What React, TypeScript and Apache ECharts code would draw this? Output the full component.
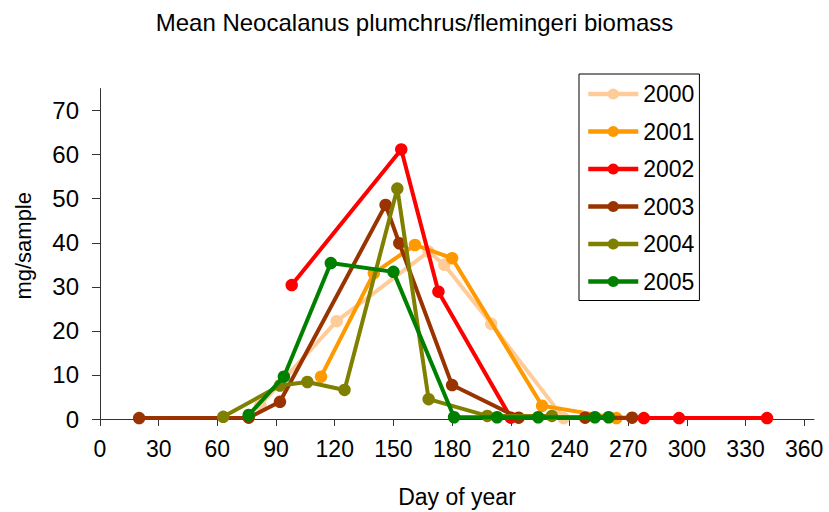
import React, { useEffect, useRef } from "react";
import * as echarts from "echarts";

// Sampling day of year and mean biomass (mg/sample) for each year
const years = ["2000", "2001", "2002", "2003", "2004", "2005"];

const days2000 = [82, 121, 168, 176, 200, 237];
const mg2000 = [3.2, 22.2, 38.0, 35.0, 21.6, 0.2];

const days2001 = [113, 140, 161, 180, 226, 264];
const mg2001 = [9.6, 33.1, 39.5, 36.5, 3.0, 0.2];

const days2002 = [98, 154, 173, 210, 278, 296, 341];
const mg2002 = [30.4, 61.2, 28.9, 0.3, 0.2, 0.2, 0.2];

const days2003 = [20, 76, 92, 146, 153, 180, 214, 248, 272];
const mg2003 = [0.2, 0.3, 3.9, 48.6, 39.9, 7.7, 0.3, 0.3, 0.3];

const days2004 = [63, 92, 106, 125, 152, 168, 198, 231];
const mg2004 = [0.5, 7.6, 8.4, 6.6, 52.3, 4.5, 0.7, 0.7];

const days2005 = [76, 94, 118, 150, 181, 203, 224, 253, 260];
const mg2005 = [0.9, 9.6, 35.4, 33.4, 0.4, 0.4, 0.4, 0.4, 0.4];

const allDays = [days2000, days2001, days2002, days2003, days2004, days2005];
const allMg = [mg2000, mg2001, mg2002, mg2003, mg2004, mg2005];

const xTicks = [0, 30, 60, 90, 120, 150, 180, 210, 240, 270, 300, 330, 360];
const yTicks = [0, 10, 20, 30, 40, 50, 60, 70];

const lineColors = ["#FFCC99", "#FF9900", "#FF0000", "#993300", "#808000", "#008000"];

const FONT = "Liberation Sans";

export default function App() {
  const ref = useRef<HTMLDivElement>(null);

  useEffect(() => {
    if (!ref.current) return;
    const chart = echarts.init(ref.current, null, { renderer: "svg" });

    const series = years.map((name, i) => ({
      name,
      type: "line",
      data: allDays[i].map((d, j) => [d, allMg[i][j]]),
      symbol: "circle",
      symbolSize: 12.5,
      showAllSymbol: true,
      lineStyle: { width: 4, color: lineColors[i] },
      itemStyle: { color: lineColors[i] },
      emphasis: { disabled: true },
      z: 2 + i,
    }));

    chart.setOption({
      animation: false,
      backgroundColor: "#ffffff",
      title: {
        text: "Mean Neocalanus plumchrus/flemingeri biomass",
        left: "center",
        top: 5,
        textStyle: {
          fontFamily: FONT,
          fontSize: 24,
          fontWeight: "normal",
          color: "#000",
        },
      },
      legend: {
        orient: "vertical",
        left: 579,
        top: 74,
        padding: [8, 5, 7, 7],
        itemWidth: 50,
        itemHeight: 14,
        itemGap: 13.5,
        borderColor: "#000",
        borderWidth: 1,
        data: years,
        lineStyle: { width: 4.5 },
        textStyle: {
          fontFamily: FONT,
          fontSize: 23,
          color: "#000",
          lineHeight: 24,
        },
      },
      grid: {
        left: 100,
        right: 15,
        top: 88.6,
        bottom: 93,
        containLabel: false,
        outerBoundsMode: "none",
      },
      xAxis: {
        type: "value",
        min: 0,
        max: 365,
        name: "Day of year",
        nameLocation: "middle",
        nameGap: 66,
        nameTextStyle: { fontFamily: FONT, fontSize: 23, color: "#000" },
        splitLine: { show: false },
        axisLine: { show: true, onZero: false, lineStyle: { color: "#333", width: 1 } },
        axisTick: {
          show: true,
          inside: false,
          length: 7,
          customValues: xTicks,
          lineStyle: { color: "#333" },
        },
        axisLabel: {
          customValues: xTicks,
          margin: 18,
          fontFamily: FONT,
          fontSize: 23,
          color: "#000",
        },
      },
      yAxis: {
        type: "value",
        min: 0,
        max: 75,
        name: "mg/sample",
        nameLocation: "middle",
        nameRotate: 90,
        nameGap: 66,
        nameTextStyle: {
          fontFamily: FONT,
          fontSize: 22,
          color: "#000",
          padding: [0, 0, 0, 16],
        },
        splitLine: { show: false },
        axisLine: { show: true, lineStyle: { color: "#333", width: 1 } },
        axisTick: {
          show: true,
          inside: false,
          length: 8,
          customValues: yTicks,
          lineStyle: { color: "#333" },
        },
        axisLabel: {
          customValues: yTicks,
          margin: 21,
          fontFamily: FONT,
          fontSize: 24,
          color: "#000",
        },
      },
      series,
    });

    return () => chart.dispose();
  }, []);

  return (
    <div
      ref={ref}
      style={{ position: "fixed", left: 0, top: 0, width: 829, height: 512, background: "#fff" }}
    />
  );
}
